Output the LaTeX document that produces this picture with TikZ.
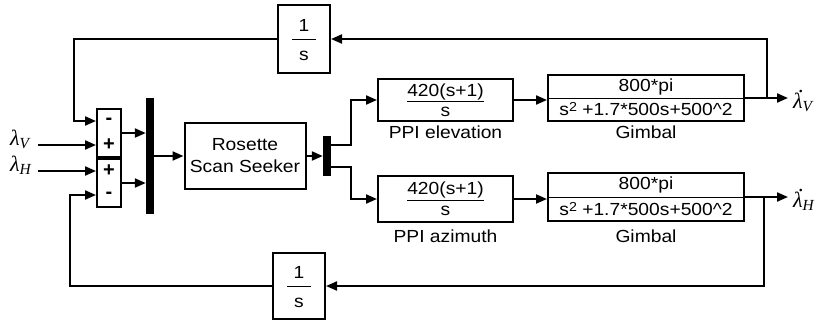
\documentclass[tikz,border=0pt]{standalone}
\usepackage{fontspec}
\setmainfont{Liberation Sans}
\newfontfamily\grk{Liberation Serif}
\usepackage{graphicx}
\usetikzlibrary{arrows.meta,calc}
\newcommand{\tx}[1]{\scalebox{1.1}[1]{#1}}
\newcommand{\dotlam}{\rlap{\hspace{0.22em}\raisebox{0.74em}{\upshape.}}λ}
\begin{document}
\begin{tikzpicture}[x=1pt,y=-1pt,
  blk/.style={draw,line width=2pt,inner sep=0pt,align=center,font=\fontsize{17.5}{22}\selectfont},
  sig/.style={line width=2.1pt},
  arr/.style={sig,-{Triangle[length=11pt,width=9pt]}},
  barblk/.style={fill=black,inner sep=0pt},
  lbl/.style={font=\fontsize{17.5}{21}\selectfont,inner sep=0pt},
  sgn/.style={font=\fontsize{20}{20}\selectfont\bfseries,inner sep=0pt},
  mth/.style={font=\fontsize{22}{24}\grk\itshape,inner sep=0pt},
  thinln/.style={line width=1pt}]
\useasboundingbox (0,0) rectangle (816,330);

% integrators
\node[blk,minimum width=52pt,minimum height=68pt] (intV) at (304,39) {};
\node[lbl] (intV1) at (304,25) {\tx{1}};
\node[lbl] (intVs) at (304,56) {\tx{s}};
\draw[thinln] ([xshift=-12pt]intV.center) -- ([xshift=12pt]intV.center);

\node[blk,minimum width=52pt,minimum height=66pt] (intH) at (299,286) {};
\node[lbl] (intH1) at (299,272) {\tx{1}};
\node[lbl] (intHs) at (299,303) {\tx{s}};
\draw[thinln] ([xshift=-12pt]intH.center) -- ([xshift=12pt]intH.center);

% sums
\node[blk,minimum width=24pt,minimum height=48pt] (sumV) at (109,133) {};
\node[sgn] (sumVm) at (109,121) {-};
\node[sgn] (sumVp) at (109,145) {+};
\node[blk,minimum width=24pt,minimum height=48pt] (sumH) at (109,183) {};
\node[sgn] (sumHp) at (109,171) {+};
\node[sgn] (sumHm) at (109,195) {-};

% mux / demux
\node[barblk,minimum width=8pt,minimum height=116pt] (mux) at (150,156) {};
\node[blk,minimum width=121pt,minimum height=66pt] (ros) at (245,156) {\tx{Rosette}\\\tx{Scan Seeker}};
\node[barblk,minimum width=8pt,minimum height=40pt] (demux) at (327,156) {};

% PPI
\node[blk,minimum width=135pt,minimum height=42pt] (ppiV) at (445.5,100) {\underline{\tx{420(s+1)}}\\[-2pt]\tx{s}};
\node[blk,minimum width=135pt,minimum height=46pt] (ppiH) at (445.5,199) {\underline{\tx{420(s+1)}}\\[-1pt]\tx{s}};
\node[lbl] (ppiVl) at (445.5,132) {\tx{PPI elevation}};
\node[lbl] (ppiHl) at (445.5,236) {\tx{PPI azimuth}};

% Gimbals
\node[blk,minimum width=196pt,minimum height=46pt] (gimV) at (646,98) {};
\node[lbl] (gimVn) at (646,87) {\tx{800*pi}};
\node[lbl] (gimVd) at (646,109) {\tx{s\raisebox{4pt}{\fontsize{13}{13}\selectfont 2} +1.7*500s+500\textasciicircum 2}};
\draw[thinln] (gimV.west) -- (gimV.east);
\node[lbl] (gimVl) at (646,132) {\tx{Gimbal}};

\node[blk,minimum width=196pt,minimum height=48pt] (gimH) at (646,197) {};
\node[lbl] (gimHn) at (646,185) {\tx{800*pi}};
\node[lbl] (gimHd) at (646,209) {\tx{s\raisebox{4pt}{\fontsize{13}{13}\selectfont 2} +1.7*500s+500\textasciicircum 2}};
\draw[thinln] (gimH.west) -- (gimH.east);
\node[lbl] (gimHl) at (646,236) {\tx{Gimbal}};

% inputs
\node[mth,anchor=west] (lV) at (10,139) {λ\textsubscript{V}};
\node[mth,anchor=west] (lH) at (10,165) {λ\textsubscript{H}};
\coordinate (lVs) at (38,145);
\coordinate (lHs) at (38,171);
\coordinate (sVa) at (sumV.west |- sumVm);
\coordinate (sVb) at (sumV.west |- sumVp);
\coordinate (sHa) at (sumH.west |- sumHp);
\coordinate (sHb) at (sumH.west |- sumHm);
\draw[arr] (lVs) -- (sVb);
\draw[arr] (lHs) -- (sHa);

% outputs
\coordinate (brV) at (767,98);
\coordinate (tipV) at (788,98);
\coordinate (brH) at (764,197);
\coordinate (tipH) at (788,197);
\node[mth,anchor=west] (ldV) at (793,101) {\dotlam\textsubscript{V}};
\node[mth,anchor=west] (ldH) at (793,200) {\dotlam\textsubscript{H}};
\draw[arr] (gimV.east) -- (tipV);
\draw[arr] (gimH.east) -- (tipH);

% feedback
\draw[arr] (brV) |- (intV.east);
\coordinate (cV) at (74,39);
\draw[arr] (intV.west) -- (cV) |- (sVa);
\draw[arr] (brH) |- (intH.east);
\coordinate (cH) at (70,286);
\draw[arr] (intH.west) -- (cH) |- (sHb);

% forward path
\draw[arr] (sumV.east) -- (sumV.east -| mux.west);
\draw[arr] (sumH.east) -- (sumH.east -| mux.west);
\draw[arr] (mux.east |- ros.west) -- (ros.west);
\draw[arr] (ros.east) -- (ros.east -| demux.west);
\coordinate (dTop) at ([yshift=11pt]demux.east);
\coordinate (dBot) at ([yshift=-11pt]demux.east);
\draw[arr] (dTop) -| ([xshift=-26pt]ppiV.west) -- (ppiV.west);
\draw[arr] (dBot) -| ([xshift=-26pt]ppiH.west) -- (ppiH.west);
\draw[arr] (ppiV.east) -- (ppiV.east -| gimV.west);
\draw[arr] (ppiH.east) -- (ppiH.east -| gimH.west);
\end{tikzpicture}
\end{document}
